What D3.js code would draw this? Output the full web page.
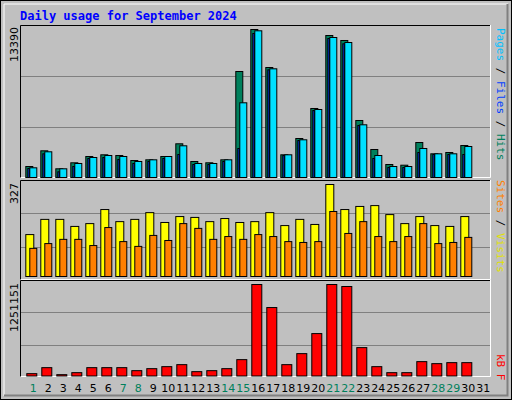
<!DOCTYPE html>
<html><head><meta charset="utf-8">
<script src="https://cdn.jsdelivr.net/npm/d3@7"></script>
<style>body{margin:0;background:#fff}</style></head><body>
<script>
const days = d3.range(1,32);
const weekend = [1,7,8,14,15,21,22,28,29];
const hits  = [995,2415,787,1330,1900,2054,1990,1538,1600,1900,3049,1448,1330,1600,9590,13390,9952,2054,3528,6243,12847,12395,5157,2533,1176,1113,3166,2144,2262,2895];
const pages = [877,2325,787,1267,1809,1990,1900,1448,1600,1900,2868,1267,1267,1600,6758,13272,9834,2054,3411,6152,12666,12213,4768,1990,995,995,2624,2144,2144,2805];
const files = [814,2144,516,995,1719,1809,1628,1267,1448,1719,2081,1176,1176,1448,2624,13028,9743,1990,3347,6061,12576,12096,4704,1719,905,905,2262,2081,2081,2081];
const visits= [149,203,203,178,188,238,195,203,227,192,213,210,195,206,192,195,227,181,203,185,327,238,249,252,220,188,213,181,178,213];
const sites = [100,117,132,132,110,174,124,107,146,128,188,171,132,142,132,149,142,124,121,124,231,153,195,142,124,142,188,117,121,139];
const kbytes= [31964,114156,18265,45662,114156,114156,114156,73060,100457,127854,155253,59361,73060,100457,223749,1251151,936087,155253,305939,579912,1251151,1223754,388133,127854,45662,45662,196350,168952,182650,182650];

const W=512,H=400;
const svg=d3.select("body").append("svg").attr("width",W).attr("height",H);
svg.append("rect").attr("width",W).attr("height",H).attr("fill","#000");
svg.append("rect").attr("x",1).attr("y",1).attr("width",W-2).attr("height",H-2).attr("fill","#C0C0C0");
svg.append("path").attr("d",`M4,${H-4}V4H${W-4}`).attr("stroke","#fff").attr("fill","none").attr("stroke-width",1);
svg.append("path").attr("d",`M4,${H-4.5}H${W-4.5}V4`).attr("stroke","#808080").attr("fill","none").attr("stroke-width",2);
svg.append("text").attr("x",20).attr("y",20).text("Daily usage for September 2024")
  .attr("font-family","DejaVu Sans Mono").attr("font-weight","bold").attr("font-size",12).attr("fill","#0000FF");

const x=d3.scaleBand().domain(days).range([25.3,490.3]).paddingInner(0);
// band width 15
function frame(y0,y1){
  svg.append("path").attr("d",`M20.5,${y1}V${y0+0.5}H491`).attr("stroke","#000").attr("fill","none");
  svg.append("path").attr("d",`M20.5,${y1-0.5}H490.5V${y0}`).attr("stroke","#fff").attr("fill","none");
  [1,2].forEach(k=>{const gy=Math.round(y0+(y1-y0)*k/3)+0.5;
    svg.append("line").attr("x1",21).attr("x2",490).attr("y1",gy).attr("y2",gy).attr("stroke","#808080");});
}
function bars(data,y,dx,w,color){
  svg.append("g").selectAll("rect").data(data).join("rect")
    .attr("x",(d,i)=>x(i+1)+dx+0.5).attr("width",w).attr("y",d=>y(d)+0.5)
    .attr("height",d=>Math.max(0,y(0)-y(d))).attr("fill",color).attr("stroke","#000").attr("stroke-width",1);
}
function leftLabel(t,y){
  svg.append("text").attr("transform",`translate(18,${y}) rotate(-90)`).attr("text-anchor","end")
   .attr("font-family","DejaVu Sans").attr("font-size",11).text(t);
}
function rightLabel(parts,y){
  const t=svg.append("text").attr("transform",`translate(497,${y}) rotate(90)`)
   .attr("font-family","DejaVu Sans Mono").attr("font-size",11);
  parts.forEach(p=>t.append("tspan").attr("fill",p[1]).text(p[0]));
}
// panel 1
frame(25,178);
const y1=d3.scaleLinear().domain([0,13390]).range([177,29]);
bars(hits,y1,0,7,"#00805C");
bars(pages,y1,4,7,"#00E0FF");
bars(files,y1,2,1.5,"#0040FF");
leftLabel("13390",27);
rightLabel([["Pages","#00C0FF"],[" / ","#000"],["Files","#0040FF"],[" / ","#000"],["Hits","#00805C"]],28);
// panel 2
frame(180,280);
const y2=d3.scaleLinear().domain([0,327]).range([276,184]);
bars(visits,y2,0,8,"#FFFF00");
bars(sites,y2,4,7,"#FF8000");
leftLabel("327",183);
rightLabel([["Sites","#FF8000"],[" / ","#000"],["Visits","#E0E000"]],180);
// panel 3
frame(280,377);
const y3=d3.scaleLinear().domain([0,1251151]).range([375.5,284]);
bars(kbytes,y3,1,10,"#FF0000");
leftLabel("1251151",283);
rightLabel([["kB F","#FF0000"]],354);
// day labels
svg.append("g").selectAll("text").data(days).join("text")
  .attr("x",d=>x(d)+8).attr("y",392).attr("text-anchor","middle")
  .attr("font-family","DejaVu Sans").attr("font-size",11)
  .attr("fill",d=>weekend.includes(d)?"#00805C":"#000").text(d=>d);
</script></body></html>
